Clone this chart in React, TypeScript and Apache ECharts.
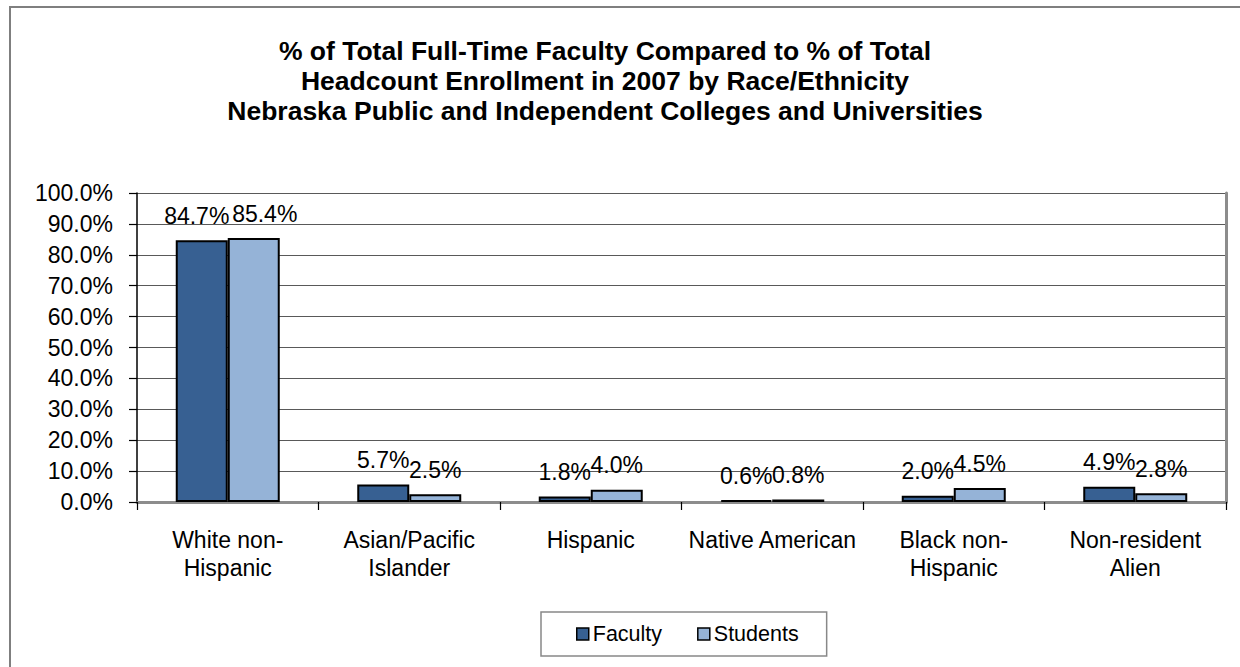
import React, { useEffect, useRef } from "react";
import * as echarts from "echarts";

const titleLines = [
  "% of Total Full-Time Faculty Compared to % of Total",
  "Headcount Enrollment in 2007 by Race/Ethnicity",
  "Nebraska Public and Independent Colleges and Universities",
];
const categories = [
  "White non-\nHispanic",
  "Asian/Pacific\nIslander",
  "Hispanic",
  "Native American",
  "Black non-\nHispanic",
  "Non-resident\nAlien",
];
const faculty = [84.7, 5.7, 1.8, 0.6, 2.0, 4.9];
const students = [85.4, 2.5, 4.0, 0.8, 4.5, 2.8];
const seriesNames = ["Faculty", "Students"];

const FONT = "Arial, 'Liberation Sans', sans-serif";

export default function App() {
  const ref = useRef<HTMLDivElement>(null);
  useEffect(() => {
    if (!ref.current) return;
    const chart = echarts.init(ref.current, null, { renderer: "svg" });
    const pct = (v: number) => `${Number(v).toFixed(1)}%`;
    const barLabel = {
      show: true,
      position: "top",
      distance: 13,
      fontSize: 23,
      fontFamily: FONT,
      color: "#000",
      formatter: (p: any) => pct(p.value),
    };
    // nudge the two tall-bar labels apart, as in the reference
    const withOffset = (vals: number[], dx: number) =>
      vals.map((v, i) => (i === 0 ? { value: v, label: { offset: [dx, 0] } } : v));
    chart.setOption({
      animation: false,
      backgroundColor: "#fff",
      textStyle: { fontFamily: FONT },
      graphic: [
        {
          type: "rect",
          shape: { x: 10, y: 7, width: 1300, height: 760 },
          style: { fill: "none", stroke: "#7f7f7f", lineWidth: 2 },
          silent: true,
        },
        {
          type: "text",
          x: 605,
          y: 36,
          style: {
            text: titleLines.join("\n"),
            fontSize: 26.5,
            fontWeight: "bold",
            fontFamily: FONT,
            lineHeight: 30,
            fill: "#000",
            textAlign: "center",
            textVerticalAlign: "top",
          },
        },
      ],
      legend: {
        data: seriesNames,
        left: 541,
        top: 612,
        orient: "horizontal",
        padding: [11, 28, 11, 35],
        borderColor: "#888",
        borderWidth: 1.5,
        itemWidth: 12,
        itemHeight: 12,
        itemGap: 35,
        icon: "rect",
        itemStyle: { borderColor: "#000", borderWidth: 1.5 },
        textStyle: { fontSize: 21.5, fontFamily: FONT, color: "#000", padding: [0, 0, 0, -1] },
      },
      grid: { left: 137, right: 14, top: 193, bottom: 165 },
      xAxis: [
        {
          type: "category",
          data: categories,
          axisLine: { lineStyle: { color: "#000", width: 1.5 } },
          axisTick: { show: true, length: 8, lineStyle: { color: "#000", width: 1.2 } },
          axisLabel: {
            fontSize: 23,
            fontFamily: FONT,
            color: "#000",
            lineHeight: 28,
            margin: 24,
            interval: 0,
          },
        },
        {
          type: "category",
          position: "top",
          data: categories,
          axisLine: { lineStyle: { color: "#8c8c8c", width: 3 } },
          axisTick: { show: false },
          axisLabel: { show: false },
        },
      ],
      yAxis: [
        {
          type: "value",
          min: 0,
          max: 100,
          interval: 10,
          axisLine: { show: true, lineStyle: { color: "#000", width: 1.5 } },
          axisTick: { show: true, length: 8, lineStyle: { color: "#000", width: 1.2 } },
          axisLabel: {
            fontSize: 23,
            fontFamily: FONT,
            color: "#000",
            margin: 24,
            formatter: pct,
          },
          splitLine: { show: true, lineStyle: { color: "#595959", width: 1 } },
        },
        {
          type: "value",
          position: "right",
          min: 0,
          max: 100,
          interval: 10,
          axisLine: { show: true, lineStyle: { color: "#8c8c8c", width: 3 } },
          axisTick: { show: false },
          axisLabel: { show: false },
          splitLine: { show: false },
        },
      ],
      series: [
        {
          name: seriesNames[0],
          type: "bar",
          data: withOffset(faculty, -5),
          barWidth: 52,
          barGap: "0%",
          itemStyle: { color: "#376092", borderColor: "#000", borderWidth: 2 },
          label: barLabel,
        },
        {
          name: seriesNames[1],
          type: "bar",
          data: withOffset(students, 11),
          barWidth: 52,
          barGap: "0%",
          itemStyle: { color: "#95B3D7", borderColor: "#000", borderWidth: 2 },
          label: barLabel,
        },
      ],
    });
    return () => chart.dispose();
  }, []);
  return (
    <div
      ref={ref}
      style={{ position: "absolute", left: 0, top: 0, width: 1240, height: 667 }}
    />
  );
}
